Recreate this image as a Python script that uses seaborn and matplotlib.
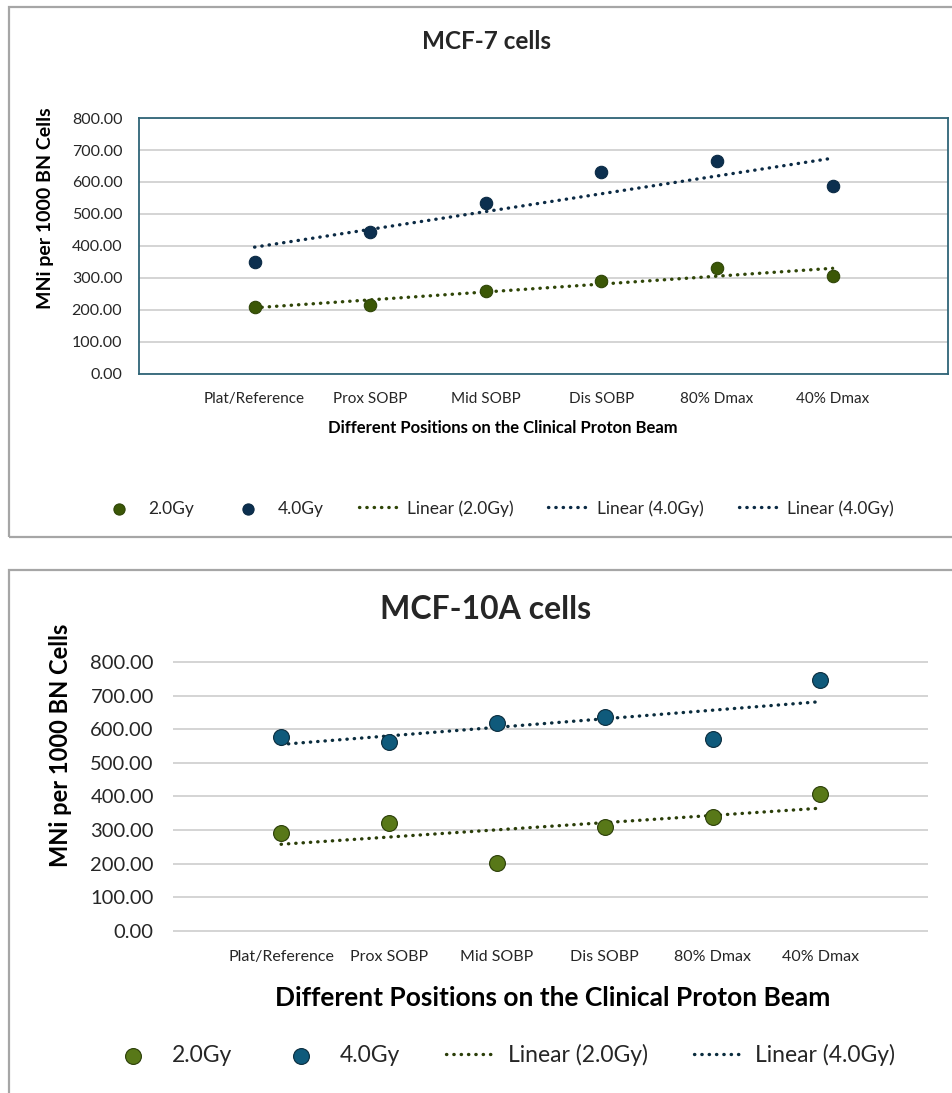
import numpy as np
import matplotlib.pyplot as plt
import seaborn as sns
from matplotlib.patches import Rectangle
from matplotlib.ticker import FormatStrFormatter

positions = ["Plat/Reference", "Prox SOBP", "Mid SOBP", "Dis SOBP", "80% Dmax", "40% Dmax"]
mcf7_2gy = [209, 215, 259, 290, 331, 306]
mcf7_4gy = [350, 444, 534, 631, 666, 587]
mcf10a_2gy = [290, 322, 201, 308, 340, 408]
mcf10a_4gy = [577, 562, 618, 636, 571, 746]

sns.set_theme(style="white")
plt.rcParams["font.family"] = ["Lato", "DejaVu Sans"]

fig = plt.figure(figsize=(9.52, 10.93), dpi=100)

# grey boxes round each chart
fig.patches.append(Rectangle((0.009, 0.509), 1.2, 0.485, transform=fig.transFigure,
                             fill=False, edgecolor="#a6a6a6", lw=1.6))
fig.patches.append(Rectangle((0.009, -0.05), 1.2, 0.5285, transform=fig.transFigure,
                             fill=False, edgecolor="#a6a6a6", lw=1.6))

dots = (0, (0.1, 2.1))


def draw(ax, v2, v4, c2, c4, l2, l4, size, fs):
    x = np.arange(len(positions))
    sns.scatterplot(x=x, y=v2, color=c2, s=size, edgecolor=l2, linewidth=0.8,
                    label="2.0Gy", ax=ax, zorder=4)
    sns.scatterplot(x=x, y=v4, color=c4, s=size, edgecolor=l4, linewidth=0.8,
                    label="4.0Gy", ax=ax, zorder=4)
    sns.regplot(x=x, y=v2, scatter=False, ci=None, ax=ax, label="Linear (2.0Gy)",
                line_kws=dict(color=l2, ls=dots, lw=2.4, dash_capstyle="round", zorder=3))
    sns.regplot(x=x, y=v4, scatter=False, ci=None, ax=ax, label="Linear (4.0Gy)",
                line_kws=dict(color=l4, ls=dots, lw=2.4, dash_capstyle="round", zorder=3))
    ax.set_xlim(-1, 6)
    ax.set_xticks(x, positions, fontsize=fs[0])
    ax.set_yticks(np.arange(0, 801, 100))
    ax.yaxis.set_major_formatter(FormatStrFormatter("%.2f"))
    ax.tick_params(axis="y", labelsize=fs[1], length=0, pad=fs[2])
    ax.tick_params(axis="x", length=0, pad=fs[3])
    ax.grid(axis="y", color="#d4d4d4", lw=1.4)
    ax.set_axisbelow(True)


# MCF-7
ax1 = fig.add_axes([0.146, 0.658, 0.850, 0.234])
draw(ax1, mcf7_2gy, mcf7_4gy, "#3b5706", "#0c2f4f", "#2f4507", "#0b2a44", 80,
     (11, 11.5, 12, 13))
ax1.set_ylim(0, 800)
for sp in ax1.spines.values():
    sp.set_color("#2f6577")
    sp.set_linewidth(1.3)
ax1.set_xlabel("Different Positions on the Clinical Proton Beam", fontsize=12,
               fontweight="bold", color="black")
ax1.xaxis.set_label_coords(0.45, -0.21)
ax1.xaxis.label.set_va("center")
ax1.set_ylabel("MNi per 1000 BN Cells", fontsize=14, fontweight="bold", color="black")
ax1.yaxis.set_label_coords(-0.116, 0.648)
ax1.yaxis.label.set_va("center")
fig.text(0.511, 0.9616, "MCF-7 cells", ha="center", va="center", fontsize=17.5,
         fontweight="bold")
h, lab = ax1.get_legend_handles_labels()
ax1.legend_.remove()
fig.legend(h + [h[3]], lab + [lab[3]], loc="center", bbox_to_anchor=(0.522, 0.535),
           ncol=5, frameon=False, fontsize=12.5, handlelength=2.2, handletextpad=0.6,
           columnspacing=2.0, markerscale=0.9)

# MCF-10A
ax2 = fig.add_axes([0.182, 0.1473, 0.793, 0.248])
draw(ax2, mcf10a_2gy, mcf10a_4gy, "#587818", "#0f5a7b", "#2a3d08", "#0a2c3d", 130,
     (11.5, 14.5, 14, 13))
ax2.set_ylim(-3, 803)
sns.despine(ax=ax2, left=True, bottom=True)
ax2.set_xlabel("Different Positions on the Clinical Proton Beam", fontsize=19,
               fontweight="bold", color="black")
ax2.xaxis.set_label_coords(0.502, -0.244)
ax2.xaxis.label.set_va("center")
ax2.set_ylabel("MNi per 1000 BN Cells", fontsize=17, fontweight="bold", color="black")
ax2.yaxis.set_label_coords(-0.15, 0.69)
ax2.yaxis.label.set_va("center")
fig.text(0.51, 0.442, "MCF-10A cells", ha="center", va="center", fontsize=23,
         fontweight="bold")
h, lab = ax2.get_legend_handles_labels()
ax2.legend_.remove()
fig.legend(h, lab, loc="center", bbox_to_anchor=(0.528, 0.0348), ncol=4, frameon=False,
           fontsize=16.5, handlelength=2.0, handletextpad=0.7, columnspacing=2.0)

fig.savefig("out.png", dpi=100, facecolor="white")
